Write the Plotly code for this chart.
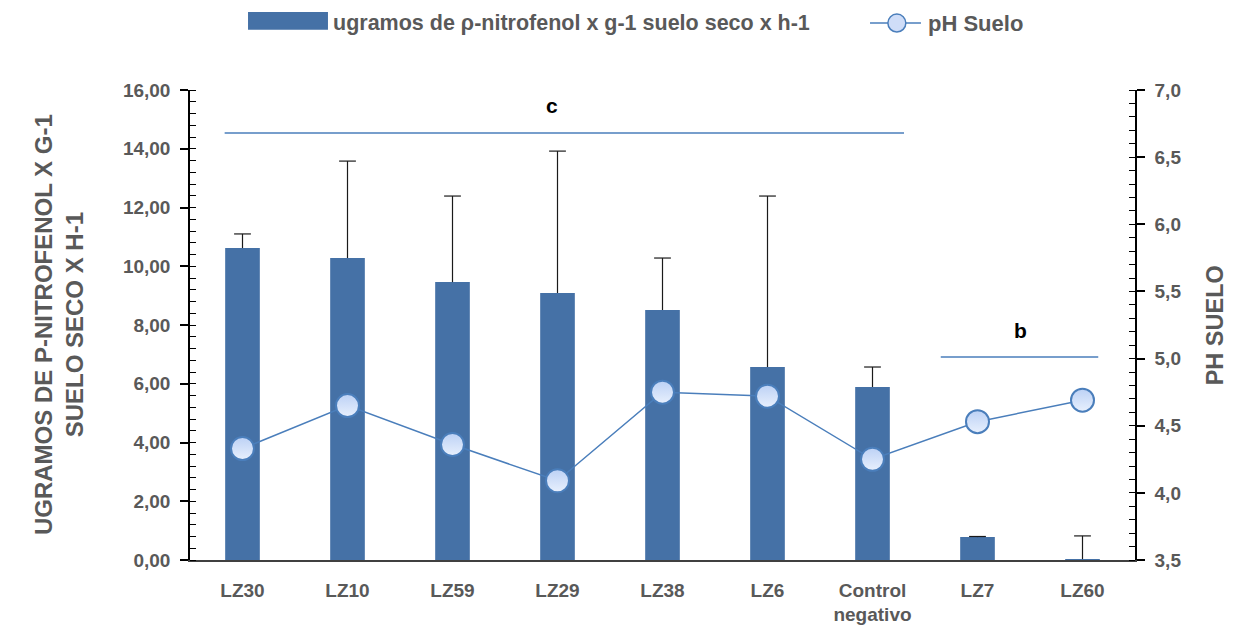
import plotly.graph_objects as go

# Strains / treatments along the x axis
categories = ["LZ30", "LZ10", "LZ59", "LZ29", "LZ38", "LZ6", "Control<br>negativo", "LZ7", "LZ60"]

# Enzyme activity (µg p-nitrophenol per g dry soil per hour) and its upper error
actividad = [10.62, 10.28, 9.46, 9.09, 8.51, 6.57, 5.89, 0.78, 0.03]
error_sup = [0.48, 3.30, 2.93, 4.83, 1.77, 5.82, 0.68, 0.02, 0.79]

# Soil pH
ph_suelo = [4.33, 4.65, 4.36, 4.09, 4.75, 4.72, 4.25, 4.53, 4.69]

# Significance groups: label, bracket start/end (category units), height on left axis, label x
grupos = [("c", -0.17, 6.30, 14.54, 2.95), ("b", 6.65, 8.15, 6.91, 7.41)]

SERIE_BARRA = "ugramos de ρ-nitrofenol x g-1 suelo seco x h-1"
SERIE_PH = "pH Suelo"

AZUL_BARRA = "#4571a6"
AZUL_LINEA = "#4a7ebb"
GRIS = "#595959"
FUENTE = "Liberation Sans, Arial"

fig = go.Figure()

# Bars with the error stem only; caps are added as separate markers on top
fig.add_trace(go.Bar(
    x=categories, y=actividad, name=SERIE_BARRA, showlegend=False,
    marker=dict(color=AZUL_BARRA, line=dict(width=0)),
    width=0.33,
    error_y=dict(type="data", array=error_sup, arrayminus=[0] * len(error_sup),
                 symmetric=False, color="#1a1a1a", thickness=1.2, width=0),
))

fig.add_trace(go.Scatter(
    x=categories, y=[a + e for a, e in zip(actividad, error_sup)],
    mode="markers", showlegend=False, hoverinfo="skip",
    marker=dict(symbol="line-ew", size=12, line=dict(color="#1a1a1a", width=1.2)),
))

fig.add_trace(go.Scatter(
    x=categories, y=ph_suelo, yaxis="y2",
    name=SERIE_PH, mode="lines+markers", showlegend=False,
    line=dict(color=AZUL_LINEA, width=1.5),
    marker=dict(size=23, color="#bcd1f5",
                gradient=dict(type="vertical", color="#e8f0fd"),
                line=dict(color=AZUL_LINEA, width=2)),
))

shapes = []
annotations = []
for etiqueta, x0, x1, altura, x_txt in grupos:
    shapes.append(dict(type="line", xref="x", yref="y",
                       x0=x0, x1=x1, y0=altura, y1=altura,
                       line=dict(color=AZUL_LINEA, width=1.5)))
    annotations.append(dict(xref="x", yref="y", x=x_txt,
                            y=altura, yshift=27, text=f"<b>{etiqueta}</b>", showarrow=False,
                            font=dict(family=FUENTE, size=21, color="black")))

# Legend drawn above the plot area
LEY_Y = 1.1425
shapes.append(dict(type="rect", xref="paper", yref="paper",
                   x0=0.0614, x1=0.146, y0=1.128, y1=1.166,
                   fillcolor=AZUL_BARRA, line=dict(width=0)))
annotations.append(dict(xref="paper", yref="paper", x=0.149, y=LEY_Y,
                        xanchor="left", yanchor="middle", showarrow=False,
                        text=f"<b>{SERIE_BARRA}</b>",
                        font=dict(family=FUENTE, size=21.5, color=GRIS)))
shapes.append(dict(type="line", xref="paper", yref="paper",
                   x0=0.7196, x1=0.7735, y0=LEY_Y, y1=LEY_Y,
                   line=dict(color=AZUL_LINEA, width=1.5)))
shapes.append(dict(type="circle", xref="paper", yref="paper",
                   x0=0.748 - 0.0095, x1=0.748 + 0.0095,
                   y0=LEY_Y - 0.0191, y1=LEY_Y + 0.0191,
                   fillcolor="#cfddf8", line=dict(color=AZUL_LINEA, width=1.5)))
annotations.append(dict(xref="paper", yref="paper", x=0.779, y=LEY_Y,
                        xanchor="left", yanchor="middle", showarrow=False,
                        text=f"<b>{SERIE_PH}</b>",
                        font=dict(family=FUENTE, size=22, color=GRIS)))

# Axis titles
annotations.append(dict(xref="paper", yref="paper", x=-0.1385, y=0.5, xanchor="center", yanchor="middle",
                        text="<b>UGRAMOS DE P-NITROFENOL X G-1<br>SUELO SECO X H-1</b>",
                        textangle=-90, showarrow=False,
                        font=dict(family=FUENTE, size=24, color=GRIS)))
annotations.append(dict(xref="paper", yref="paper", x=1.085, y=0.5, xanchor="center", yanchor="middle",
                        text="<b>PH SUELO</b>", textangle=-90, showarrow=False,
                        font=dict(family=FUENTE, size=23.5, color=GRIS)))

tick_font = dict(family=FUENTE, size=19, color=GRIS, weight="bold")

fig.update_layout(
    width=1238, height=632,
    margin=dict(l=190, r=103, t=90, b=72),
    paper_bgcolor="white", plot_bgcolor="white",
    font=dict(family=FUENTE, color=GRIS, size=17),
    showlegend=False,
    xaxis=dict(range=[-0.5, 8.5], showgrid=False, showline=True, linecolor="#404040", linewidth=1.5,
               ticks="", tickfont=tick_font, ticklabelstandoff=12, automargin=False),
    yaxis=dict(range=[0, 16], dtick=2, tickformat=".2f", automargin=False,
               showgrid=False, zeroline=False, showline=True, linecolor="black", linewidth=1.5,
               ticks="outside", ticklen=8, tickcolor="black", tickwidth=1.5,
               minor=dict(dtick=0.4, ticks="inside", ticklen=6, tickcolor="black", tickwidth=1),
               tickfont=tick_font, ticklabelstandoff=6),
    yaxis2=dict(range=[3.5, 7.0], dtick=0.5, tickformat=".1f", overlaying="y", side="right",
                automargin=False,
                showgrid=False, zeroline=False, showline=True, linecolor="black", linewidth=1.5,
                ticks="outside", ticklen=8, tickcolor="black", tickwidth=1.5,
                minor=dict(dtick=0.1, ticks="inside", ticklen=6, tickcolor="black", tickwidth=1),
                tickfont=tick_font, ticklabelstandoff=6),
    separators=", ",
    shapes=shapes,
    annotations=annotations,
)

fig.write_html("out.html")
